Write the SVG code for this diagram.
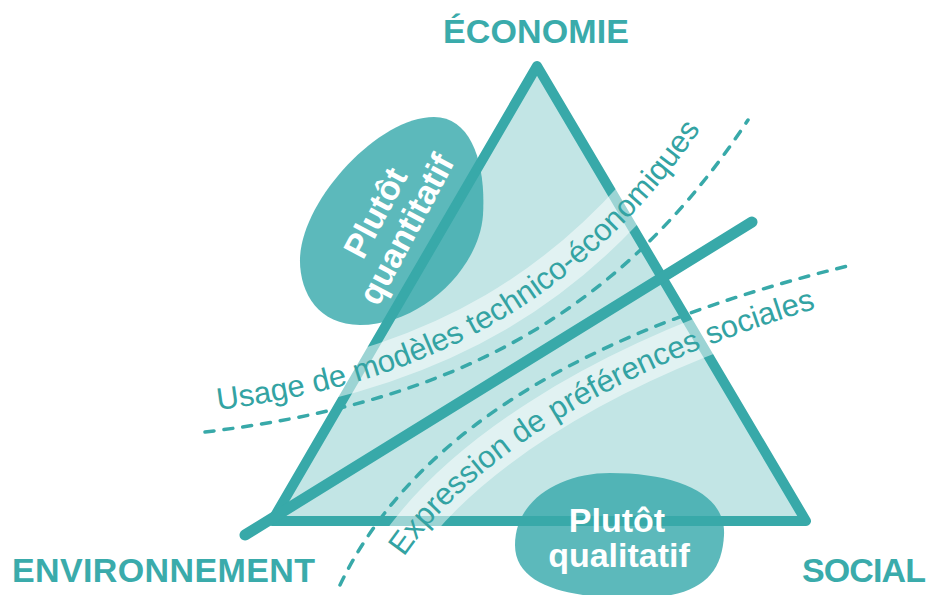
<svg xmlns="http://www.w3.org/2000/svg" width="933" height="595" viewBox="0 0 933 595">
<defs>
<style>
.blob{fill:#5cb9bb;}
.tri{fill:#3aabab;fill-opacity:0.31;stroke:#38a9a9;stroke-width:10;stroke-linejoin:round;}
.band{fill:none;stroke:#ffffff;stroke-opacity:0.5;stroke-width:40;}
.thick{fill:none;stroke:#38a9a9;stroke-width:11;stroke-linecap:round;}
.dash{fill:none;stroke:#38a9a9;stroke-width:3.5;stroke-dasharray:9 10;stroke-linecap:round;}
.curv{font-family:"Liberation Sans",Arial,sans-serif;font-size:31px;fill:#33a3a3;}
.blobtxt{font-family:"Liberation Sans",Arial,sans-serif;font-size:34px;font-weight:bold;fill:#ffffff;text-anchor:middle;}
.lbl{font-family:"Liberation Sans",Arial,sans-serif;font-size:34px;font-weight:bold;fill:#3aabab;}
</style>
<path id="p1" d="M218,410 C430,383 590,300 715,108"/>
<path id="p2" d="M404,557 C458,478 585,373 845,300"/>
</defs>
<g id="blob-quantitatif-shape"><path class="blob" d="M434,117 C472,117 486,165 483,215 C479,270 420,325 360,325 C318,325 299,292 300,258 C302,200 378,117 434,117 Z"/></g>
<g id="blob-qualitatif-shape"><path class="blob" d="M610,473 C680,473 726,495 724,535 C722,575 700,597 640,598 C580,599 515,590 515,545 C515,500 560,473 610,473 Z"/></g>
<g id="triangle"><path class="tri" d="M537,66 L806,521 L272,521 Z"/></g>
<g id="bands">
<path class="band" d="M217,400 C429,373 585,292 707,103"/>
<path class="band" d="M396,551 C450,471 580,364 842,290"/>
</g>
<g id="connectors">
<path class="thick" d="M245,535 L752,222"/>
<path class="dash" d="M205,432 C430,405 610,330 748,120"/>
<path class="dash" d="M340,585 C400,460 540,340 852,265"/>
</g>
<g id="curve-labels">
<text class="curv"><textPath href="#p1">Usage de modèles technico-économiques</textPath></text>
<text class="curv"><textPath href="#p2">Expression de préférences sociales</textPath></text>
</g>
<g id="blob-quantitatif" transform="translate(391,221) rotate(-62)">
<text class="blobtxt" x="0" y="-6">Plutôt</text>
<text class="blobtxt" x="0" y="29">quantitatif</text>
</g>
<g id="blob-qualitatif">
<text class="blobtxt" x="617" y="532">Plutôt</text>
<text class="blobtxt" x="619" y="567">qualitatif</text>
</g>
<g id="node-economie"><text class="lbl" x="443" y="43" textLength="186" lengthAdjust="spacing">ÉCONOMIE</text></g>
<g id="node-environnement"><text class="lbl" x="12" y="582" textLength="303" lengthAdjust="spacing">ENVIRONNEMENT</text></g>
<g id="node-social"><text class="lbl" x="802" y="582" textLength="124" lengthAdjust="spacing">SOCIAL</text></g>
</svg>
